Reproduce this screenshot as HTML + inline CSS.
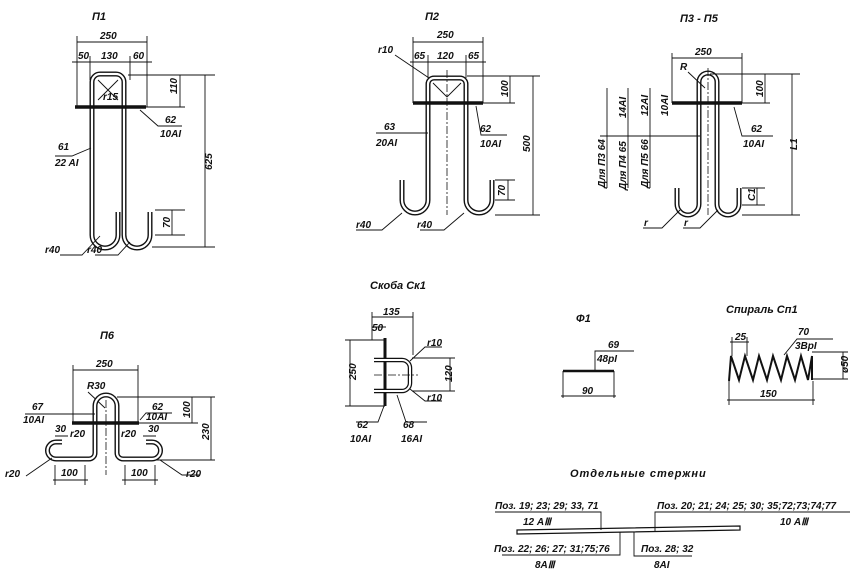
<!DOCTYPE html>
<html><head><meta charset="utf-8"><style>
html,body{margin:0;padding:0;background:#fff;}
svg{display:block;}
text{font-family:"Liberation Sans",sans-serif;font-style:italic;font-weight:bold;font-size:10px;fill:#111;}
.t{font-size:11px;}
.bo{fill:none;stroke:#111;stroke-width:5;stroke-linejoin:round;}
.bi{fill:none;stroke:#fff;stroke-width:2.2;stroke-linejoin:round;}
.l{fill:none;stroke:#111;stroke-width:0.9;}
.c{fill:none;stroke:#111;stroke-width:0.8;stroke-dasharray:8 2 2 2;}
.p{stroke:#111;stroke-width:3.5;}
</style></head><body>
<svg width="867" height="582" viewBox="0 0 867 582" xmlns="http://www.w3.org/2000/svg">
<defs>
<marker id="a" viewBox="0 0 10 10" refX="10" refY="5" markerWidth="6" markerHeight="6" orient="auto-start-reverse"><path d="M0,2 L10,5 L0,8 z" fill="#111"/></marker>
</defs>

<!-- ===== П1 ===== -->
<text x="92" y="20" class="t">П1</text>
<path class="l" d="M77,36 V107 M147,36 V107 M77,42 H147 M90,56 V80 M130,56 V80 M72,62 H152"/>
<text x="100" y="39">250</text><text x="78" y="59">50</text><text x="101" y="59">130</text><text x="133" y="59">60</text>
<path class="bo" d="M150,212 V235 A13,13 0 0 1 124,235 V82 A8,8 0 0 0 116,74 H100 A8,8 0 0 0 92,82 V235 A13,13 0 0 0 118,235 V212"/>
<path class="bi" d="M150,212 V235 A13,13 0 0 1 124,235 V82 A8,8 0 0 0 116,74 H100 A8,8 0 0 0 92,82 V235 A13,13 0 0 0 118,235 V212"/>
<line class="p" x1="75" y1="107" x2="146" y2="107"/>
<path class="l" d="M98,80 L118,100 M118,80 L98,100"/>
<text x="103" y="100" font-size="9">r15</text>
<path class="l" d="M128,75 H215 M146,107 H185 M180,75 V107 M152,247 H215 M205,75 V247 M155,210 H185 M172,210 V235 M155,235 H185"/>
<text transform="translate(177,94) rotate(-90)">110</text>
<text transform="translate(212,170) rotate(-90)">625</text>
<text transform="translate(170,228) rotate(-90)">70</text>
<path class="l" d="M140,110 L158,126 H182"/><text x="165" y="123">62</text><text x="160" y="137">10AI</text>
<path class="l" d="M91,148 L72,156 H55"/><text x="58" y="150">61</text><text x="55" y="166">22 AI</text>
<path class="l" d="M60,255 H82 L100,236 M95,255 H118 L130,242"/><text x="45" y="253">r40</text><text x="87" y="253">r40</text>

<!-- ===== П2 ===== -->
<text x="425" y="20" class="t">П2</text>
<path class="l" d="M413,37 V103 M483,37 V103 M413,42 H483 M428,55 V78 M466,55 V78 M410,62 H486"/>
<text x="437" y="38">250</text><text x="414" y="59">65</text><text x="437" y="59">120</text><text x="468" y="59">65</text>
<text x="378" y="53">r10</text><path class="l" d="M395,55 L432,80"/>
<path class="bo" d="M402,180 V200 A13,13 0 0 0 428,200 V84 A6,6 0 0 1 434,78 H460 A6,6 0 0 1 466,84 V200 A13,13 0 0 0 492,200 V180"/>
<path class="bi" d="M402,180 V200 A13,13 0 0 0 428,200 V84 A6,6 0 0 1 434,78 H460 A6,6 0 0 1 466,84 V200 A13,13 0 0 0 492,200 V180"/>
<line class="p" x1="413" y1="103" x2="483" y2="103"/>
<line class="c" x1="447" y1="70" x2="447" y2="215"/>
<path class="l" d="M433,83 L447,97 L461,83"/>
<path class="l" d="M467,76 H540 M483,103 H515 M510,76 V103 M495,215 H540 M533,76 V215 M495,180 H515 M508,180 V200 M495,200 H515"/>
<text transform="translate(508,97) rotate(-90)">100</text>
<text transform="translate(530,152) rotate(-90)">500</text>
<text transform="translate(505,196) rotate(-90)">70</text>
<path class="l" d="M476,106 L481,135 H507"/><text x="480" y="132">62</text><text x="480" y="147">10AI</text>
<path class="l" d="M428,133 H376"/><text x="384" y="130">63</text><text x="376" y="146">20AI</text>
<path class="l" d="M356,230 H382 L402,213 M420,230 H444 L464,213"/><text x="356" y="228">r40</text><text x="417" y="228">r40</text>

<!-- ===== П3-П5 ===== -->
<text x="680" y="22" class="t">П3 - П5</text>
<path class="l" d="M672,53 V103 M742,53 V103 M672,58 H742"/>
<text x="695" y="55">250</text>
<path class="bo" d="M677,188 V204 A11,11 0 0 0 699,204 V82 A9,9 0 0 1 717,82 V204 A11,11 0 0 0 739,204 V188"/>
<path class="bi" d="M677,188 V204 A11,11 0 0 0 699,204 V82 A9,9 0 0 1 717,82 V204 A11,11 0 0 0 739,204 V188"/>
<line class="p" x1="672" y1="103" x2="742" y2="103"/>
<line class="c" x1="708" y1="68" x2="708" y2="215"/>
<text x="680" y="70">R</text><path class="l" d="M688,72 L705,88"/>
<path class="l" d="M710,74 H800 M742,103 H770 M765,74 V103 M742,215 H800 M792,74 V215 M742,188 H765 M757,188 V205 M742,205 H765"/>
<text transform="translate(763,97) rotate(-90)">100</text>
<text transform="translate(797,150) rotate(-90)">L1</text>
<text transform="translate(755,201) rotate(-90)">C1</text>
<path class="l" d="M734,107 L742,136 H773"/><text x="751" y="132">62</text><text x="743" y="147">10AI</text>
<path class="l" d="M600,136 H700 M607,88 V188 M628,88 V188 M650,88 V188"/>
<text transform="translate(605,188) rotate(-90)">Для  П3    64</text>
<text transform="translate(626,190) rotate(-90)">Для  П4    65</text>
<text transform="translate(648,188) rotate(-90)">Для  П5    66</text>
<text transform="translate(626,118) rotate(-90)">14AI</text>
<text transform="translate(648,116) rotate(-90)">12AI</text>
<text transform="translate(668,116) rotate(-90)">10AI</text>
<path class="l" d="M643,228 H662 L680,210 M683,228 H700 L718,210"/><text x="644" y="226">r</text><text x="684" y="226">r</text>

<!-- ===== П6 ===== -->
<text x="100" y="339" class="t">П6</text>
<path class="l" d="M73,365 V423 M138,365 V423 M73,370 H138"/>
<text x="96" y="367">250</text>
<text x="87" y="389">R30</text><path class="l" d="M88,392 L105,408"/>
<path class="bo" d="M62,442 H56 A8,8 0 0 0 56,459 H89 A6,6 0 0 0 95,453 V406 A11,11 0 0 1 117,406 V453 A6,6 0 0 0 123,459 H152 A8,8 0 0 0 152,442 H146"/>
<path class="bi" d="M62,442 H56 A8,8 0 0 0 56,459 H89 A6,6 0 0 0 95,453 V406 A11,11 0 0 1 117,406 V453 A6,6 0 0 0 123,459 H152 A8,8 0 0 0 152,442 H146"/>
<line class="p" x1="72" y1="423" x2="139" y2="423"/>
<line class="c" x1="106" y1="400" x2="106" y2="475"/>
<path class="l" d="M117,397 H215 M139,423 H198 M192,397 V423 M155,460 H215 M211,397 V460"/>
<text transform="translate(190,418) rotate(-90)">100</text>
<text transform="translate(209,440) rotate(-90)">230</text>
<path class="l" d="M95,414 H25"/><text x="32" y="410">67</text><text x="23" y="423">10AI</text>
<path class="l" d="M140,420 L146,413 H172"/><text x="152" y="410">62</text><text x="146" y="420">10AI</text>
<text x="55" y="432" font-size="9">30</text><text x="148" y="432" font-size="9">30</text>
<text x="70" y="437">r20</text><text x="121" y="437">r20</text>
<path class="l" d="M55,436 H68 M143,436 H156 M55,465 V485 M85,465 V485 M53,480 H88 M125,465 V485 M155,465 V485 M122,480 H158"/>
<text x="61" y="476">100</text><text x="131" y="476">100</text>
<path class="l" d="M26,476 L52,458 M160,460 L182,475 H200"/><text x="5" y="477">r20</text><text x="186" y="477">r20</text>

<!-- ===== Скоба ===== -->
<text x="370" y="289" class="t">Скоба Ск1</text>
<path class="l" d="M372,312 V340 M413,312 V355 M372,317 H413 M372,327 H386"/>
<text x="383" y="315">135</text><text x="372" y="331" font-size="8">50</text>
<line class="p" x1="385" y1="338" x2="385" y2="406" style="stroke-width:3"/>
<path class="bo" d="M374,360 H402 A8,8 0 0 1 410,368 V383 A8,8 0 0 1 402,391 H374" style="stroke-width:4.5"/>
<path class="bi" d="M374,360 H402 A8,8 0 0 1 410,368 V383 A8,8 0 0 1 402,391 H374" style="stroke-width:2"/>
<path class="c" d="M374,375 H418"/>
<path class="l" d="M345,340 H385 M345,406 H385 M350,340 V406 M412,358 H455 M412,391 H455 M450,358 V391"/>
<text transform="translate(356,380) rotate(-90)">250</text>
<text transform="translate(452,382) rotate(-90)">120</text>
<path class="l" d="M410,361 L425,347 H442 M410,389 L425,401 H442"/><text x="427" y="346">r10</text><text x="427" y="401">r10</text>
<path class="l" d="M384,406 L378,422 H356 M397,395 L406,422 H427"/>
<text x="357" y="428">62</text><text x="350" y="442">10AI</text>
<text x="403" y="428">68</text><text x="401" y="442">16AI</text>

<!-- ===== Ф1 ===== -->
<text x="576" y="322" class="t">Ф1</text>
<line x1="563" y1="371" x2="614" y2="371" stroke="#111" stroke-width="2.5"/>
<path class="l" d="M595,370 V351 H634 M563,371 V398 M614,371 V398 M561,396 H616"/>
<text x="608" y="348">69</text><text x="597" y="362">48pI</text>
<text x="582" y="394">90</text>

<!-- ===== Спираль ===== -->
<text x="726" y="313" class="t">Спираль Сп1</text>
<path d="M729,381 L731,356 L739,380 L745,356 L753,380 L759,356 L767,380 L773,356 L781,380 L787,356 L795,380 L801,356 L808,380 L812,356 L812,380" fill="none" stroke="#111" stroke-width="2"/>
<path class="l" d="M732,337 V356 M747,337 V356 M730,342 H749 M784,355 L797,339 H833 M729,381 V405 M813,381 V405 M727,400 H815 M812,352 H848 M812,379 H848 M843,352 V379"/>
<text x="735" y="340">25</text><text x="798" y="335">70</text><text x="795" y="349">3BpI</text>
<text x="760" y="397">150</text>
<text transform="translate(848,373) rotate(-90)" font-size="9">ø50</text>

<!-- ===== Отдельные стержни ===== -->
<text x="570" y="477" class="t" letter-spacing="1">Отдельные   стержни</text>
<path d="M517,530 L740,526 L740,530 L517,534 Z" fill="#fff" stroke="#111" stroke-width="1.2"/>
<path class="l" d="M495,512 H601 V530 M655,531 V512 H850 M620,532 V555 H502 M634,532 V556 H692"/>
<text x="495" y="509">Поз. 19; 23; 29; 33, 71</text><text x="523" y="525">12 АⅢ</text>
<text x="657" y="509">Поз. 20; 21; 24; 25; 30; 35;72;73;74;77</text><text x="780" y="525">10 АⅢ</text>
<text x="494" y="552">Поз. 22; 26; 27; 31;75;76</text><text x="535" y="568">8АⅢ</text>
<text x="641" y="552">Поз. 28; 32</text><text x="654" y="568">8AI</text>
</svg>
</body></html>
